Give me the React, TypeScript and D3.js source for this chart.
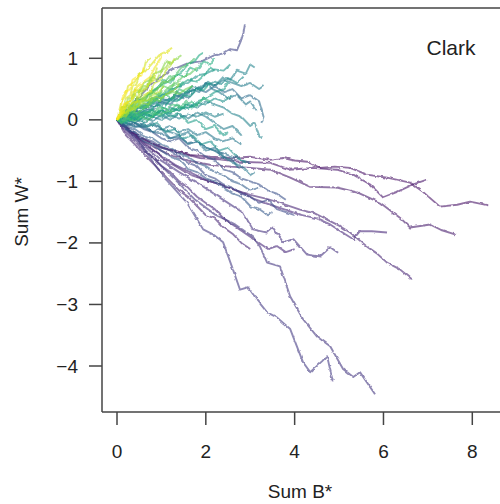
import React from 'react';
import * as d3 from 'd3';

const xTicks = [0, 2, 4, 6, 8];
const yTicks = [1, 0, -1, -2, -3, -4];
const panelLabel = 'Clark';
const xLabel = 'Sum B*';
const yLabel = 'Sum W*';

// each walk: flat list x0,y0,x1,y1,...
const walks: number[][] = [
  // long purple walks
  [0,0, .41,-.24, .7,-.35, .97,-.45, 1.3,-.5, 1.64,-.57, 2.1,-.6, 2.55,-.62, 3.0,-.6, 3.45,-.65, 3.74,-.62, 4.0,-.66, 4.28,-.68, 4.57,-.78, 4.9,-.76, 5.25,-.78, 5.63,-.89, 6.08,-.94, 6.6,-1.02, 6.89,-1.17, 7.27,-1.41, 7.66,-1.38, 7.95,-1.33, 8.36,-1.39],
  [0,0, .52,-.29, .85,-.4, 1.19,-.49, 1.87,-.62, 2.3,-.64, 2.77,-.68, 3.45,-.7, 3.9,-.81, 4.41,-.78, 4.95,-.81, 5.32,-.89, 5.7,-1.05, 5.99,-1.26, 6.31,-1.17, 6.67,-1.05, 6.98,-.97],
  [0,0, .52,-.32, .85,-.45, 1.19,-.57, 1.6,-.66, 2.09,-.73, 2.55,-.76, 3.0,-.78, 3.45,-.81, 3.9,-.94, 4.35,-1.09, 4.95,-1.1, 5.41,-1.18, 5.93,-1.35, 6.37,-1.59, 6.6,-1.75, 7.05,-1.7, 7.3,-1.79, 7.61,-1.86],
  [0,0, .52,-.32, 1.08,-.65, 1.64,-.89, 2.0,-.98, 2.32,-1.05, 2.7,-1.15, 3.0,-1.22, 3.35,-1.28, 3.67,-1.35, 4.12,-1.46, 4.45,-1.52, 4.73,-1.62, 5.0,-1.72, 5.25,-1.83, 5.63,-2.06, 5.85,-2.17, 6.08,-2.32, 6.37,-2.43, 6.64,-2.59],
  [0,0, .63,-.41, 1.31,-.73, 1.98,-.97, 2.4,-1.07, 2.77,-1.17, 3.1,-1.29, 3.45,-1.38, 4.12,-1.54, 4.5,-1.6, 4.8,-1.7, 5.14,-1.86, 5.32,-1.94, 5.47,-1.81, 5.74,-1.81, 6.08,-1.83],
  [0,0, .5,-.35, .97,-.65, 1.4,-.85, 1.87,-1.05, 2.35,-1.28, 2.84,-1.51, 3.06,-1.78, 3.38,-1.83, 3.51,-1.75, 3.74,-1.99, 3.97,-1.94, 4.28,-2.19, 4.57,-2.22, 4.8,-2.07, 4.98,-2.16],
  [0,0, .41,-.32, .86,-.65, 1.31,-.97, 1.76,-1.3, 2.21,-1.54, 2.66,-1.7, 3.06,-1.9, 3.22,-2.06, 3.38,-2.32, 3.67,-2.38, 3.9,-2.87, 4.19,-3.24, 4.5,-3.52, 4.8,-3.68, 5.09,-4.05, 5.32,-4.18, 5.47,-4.1, 5.81,-4.46],
  [0,0, .45,-.32, .75,-.62, 1.04,-.92, 1.58,-1.35, 1.94,-1.78, 2.16,-1.86, 2.39,-1.99, 2.61,-2.43, 2.77,-2.76, 2.95,-2.72, 3.15,-2.92, 3.38,-3.13, 3.6,-3.21, 3.9,-3.4, 4.19,-3.94, 4.35,-4.1, 4.62,-3.92, 4.73,-3.84, 4.86,-4.25],
  [0,0, .2,-.2, .4,-.35, .6,-.5, .8,-.6, 1.0,-.75, 1.2,-.85, 1.4,-1.0, 1.6,-1.1, 1.8,-1.25, 2.0,-1.35, 2.2,-1.45, 2.4,-1.6, 2.6,-1.7, 2.8,-1.8, 3.0,-1.9, 3.2,-2.0, 3.4,-2.1, 3.6,-2.05, 3.8,-2.15, 4.0,-2.1],
  [0,0, .2,-.25, .4,-.4, .6,-.55, .8,-.7, 1.0,-.85, 1.2,-1.0, 1.4,-1.15, 1.6,-1.25, 1.8,-1.4, 2.0,-1.55, 2.2,-1.6, 2.4,-1.75, 2.6,-1.85, 2.8,-2.0, 3.0,-2.1],
  // blue walks
  [0,0, .2,-.1, .4,-.15, .6,-.25, .8,-.3, 1.0,-.4, 1.2,-.45, 1.4,-.55, 1.6,-.6, 1.8,-.7, 2.0,-.75, 2.2,-.85, 2.4,-.9, 2.6,-1.0, 2.8,-1.05, 3.0,-1.15, 3.2,-1.1],
  [0,0, .2,-.15, .4,-.2, .6,-.35, .8,-.4, 1.0,-.5, 1.2,-.6, 1.4,-.65, 1.6,-.8, 1.8,-.85, 2.0,-.95, 2.2,-1.0, 2.4,-1.1, 2.6,-1.2, 2.8,-1.25, 3.0,-1.4, 3.2,-1.45, 3.4,-1.55, 3.5,-1.5],
  [0,0, .2,-.05, .4,-.1, .6,-.12, .8,-.2, 1.0,-.22, 1.2,-.3, 1.4,-.28, 1.6,-.38, 1.8,-.35, 2.0,-.45, 2.2,-.5, 2.4,-.55, 2.6,-.6, 2.8,-.65, 3.0,-.7],
  [0,0, .2,-.1, .4,-.05, .6,-.15, .8,-.2, 1.0,-.3, 1.2,-.35, 1.4,-.3, 1.6,-.45, 1.8,-.5, 2.0,-.6, 2.2,-.65, 2.4,-.8, 2.6,-.85, 2.8,-.95, 3.0,-1.0, 3.2,-1.05, 3.4,-1.15, 3.6,-1.2, 3.8,-1.3],
  [0,0, .2,0, .4,-.05, .6,-.1, .8,-.05, 1.0,-.15, 1.2,-.2, 1.4,-.25, 1.6,-.2, 1.8,-.35, 2.0,-.45, 2.2,-.5, 2.4,-.6, 2.6,-.7, 2.8,-.75, 3.0,-.9, 3.1,-.85],
  [0,0, .2,-.12, .4,-.2, .6,-.3, .8,-.35, 1.0,-.45, 1.2,-.5, 1.4,-.6, 1.6,-.7, 1.8,-.75, 2.0,-.9, 2.2,-.95, 2.4,-1.05, 2.6,-1.1, 2.8,-1.2, 3.0,-1.25, 3.2,-1.35, 3.4,-1.3, 3.6,-1.45, 3.8,-1.5, 4.0,-1.55],
  [0,0, .4,.3, .8,.6, 1.2,.8, 1.6,.92, 1.9,.95, 2.2,1.05, 2.4,1.08, 2.55,1.15, 2.7,1.13, 2.8,1.3, 2.85,1.42, 2.88,1.55],
  // teal walks
  [0,0, .2,.05, .4,0, .6,.1, .8,.05, 1.0,.15, 1.2,.1, 1.4,.2, 1.6,.18, 1.8,.28, 2.0,.25, 2.2,.35, 2.4,.3, 2.6,.4],
  [0,0, .2,.1, .4,.15, .6,.25, .8,.3, 1.0,.4, 1.2,.45, 1.4,.55, 1.6,.6, 1.8,.72, 2.0,.75, 2.2,.82, 2.4,.8, 2.55,.9],
  [0,0, .2,-.05, .4,0, .6,-.05, .8,.05, 1.0,0, 1.2,.08, 1.4,.02, 1.6,.1, 1.8,.05, 2.0,.12, 2.2,.05, 2.4,.1],
  [0,0, .2,.05, .4,.1, .6,.08, .8,.2, 1.0,.25, 1.2,.35, 1.4,.32, 1.6,.45, 1.8,.5, 2.0,.55, 2.2,.62, 2.35,.58, 2.5,.68, 2.7,.6, 2.85,.7],
  [0,0, .2,-.08, .4,-.05, .6,-.12, .8,-.08, 1.0,-.15, 1.2,-.1, 1.4,-.2, 1.6,-.15, 1.8,-.25, 2.0,-.2, 2.2,-.3, 2.4,-.35, 2.6,-.3, 2.8,-.4],
  [0,0, .2,.05, .4,0, .6,.1, .8,.15, 1.0,.1, 1.2,.2, 1.4,.15, 1.6,.25, 1.8,.2, 2.0,.3, 2.2,.25, 2.4,.2, 2.6,.1, 2.8,.05, 3.0,-.1, 3.1,-.05, 3.2,-.25, 3.27,-.3],
  [0,0, .2,.1, .4,.2, .6,.2, .8,.35, 1.0,.4, 1.2,.5, 1.4,.55, 1.6,.65, 1.8,.62, 2.0,.75, 2.1,.85, 2.2,.8],
  [0,0, .15,.05, .3,.12, .45,.1, .6,.2, .75,.25, .9,.35, 1.05,.38, 1.2,.48, 1.35,.55, 1.5,.62],
  [0,0, .2,.05, .4,.15, .6,.12, .8,.25, 1.0,.3, 1.2,.35, 1.4,.4, 1.6,.45, 1.8,.5, 2.0,.6, 2.2,.55, 2.4,.65, 2.6,.6, 2.8,.55, 3.0,.6, 3.2,.5, 3.3,.55],
  [0,0, .2,-.02, .4,.05, .6,0, .8,.1, 1.0,.05, 1.2,.12, 1.4,.2, 1.6,.18, 1.8,.3, 2.0,.35, 2.2,.45, 2.4,.5, 2.5,.62],
  [0,0, .2,.1, .35,.05, .5,.2, .7,.25, .85,.2, 1.0,.35, 1.2,.3, 1.35,.45, 1.5,.4, 1.7,.55, 1.9,.5, 2.05,.62, 2.2,.55, 2.4,.7, 2.55,.65, 2.7,.8, 2.9,.75, 3.0,.9, 3.1,.85],
  [0,0, .2,.05, .4,.15, .55,.1, .7,.25, .9,.3, 1.1,.25, 1.3,.4, 1.5,.35, 1.7,.5, 1.85,.45, 2.0,.6, 2.15,.5, 2.3,.45, 2.5,.35, 2.7,.4, 2.9,.25, 3.0,.3, 3.15,.15],
  [0,0, .15,-.05, .3,.05, .5,0, .7,-.1, .9,-.05, 1.1,-.2, 1.3,-.15, 1.5,-.3, 1.7,-.25, 1.9,-.4, 2.1,-.35, 2.3,-.5, 2.5,-.45, 2.7,-.6, 2.9,-.7],
  [0,0, .2,.08, .4,.02, .6,.12, .8,.05, 1.0,.15, 1.2,.05, 1.4,.1, 1.6,-.05, 1.8,0, 2.0,-.15, 2.2,-.1, 2.4,-.25, 2.5,-.2],
  [0,0, .2,-.05, .4,-.12, .6,-.08, .8,-.2, 1.0,-.15, 1.2,-.3, 1.4,-.25, 1.6,-.4, 1.8,-.35, 2.0,-.5, 2.2,-.45, 2.4,-.6, 2.6,-.65, 2.75,-.8],
  [0,0, .2,.1, .4,.05, .6,.2, .8,.15, 1.0,.3, 1.2,.25, 1.4,.4, 1.6,.35, 1.8,.5, 2.0,.45, 2.2,.55, 2.4,.45, 2.6,.5, 2.8,.35, 3.0,.4, 3.2,.3, 3.3,.05, 3.25,-.05],
  [0,0, .15,.05, .3,.1, .45,.05, .6,.15, .75,.12, .9,.25, 1.05,.2, 1.2,.32, 1.35,.3, 1.5,.4, 1.65,.38, 1.8,.5, 1.95,.48, 2.1,.6],
  [0,0, .2,.02, .4,-.05, .6,.05, .8,-.02, 1.0,.08, 1.2,0, 1.4,.1, 1.6,.02, 1.8,.12, 2.0,.05, 2.2,-.05, 2.4,-.15, 2.6,-.1, 2.8,-.25],
  // green walks
  [0,0, .1,.1, .25,.12, .35,.25, .5,.2, .65,.3, .8,.35, .95,.3, 1.1,.4, 1.25,.45, 1.4,.42, 1.55,.5, 1.7,.55],
  [0,0, .15,.05, .3,.15, .45,.1, .6,.2, .75,.25, .9,.4, 1.05,.45, 1.2,.55, 1.35,.6, 1.5,.72, 1.65,.75, 1.8,.85],
  [0,0, .1,.2, .25,.25, .35,.4, .5,.45, .6,.6, .75,.65, .85,.75, 1.0,.8, 1.1,.95, 1.2,.9, 1.35,1.0, 1.45,1.05],
  [0,0, .15,0, .3,.08, .45,.05, .6,.12, .8,.1, .95,.2, 1.1,.18, 1.25,.25, 1.4,.22, 1.6,.3],
  [0,0, .1,.12, .2,.18, .35,.2, .5,.32, .6,.3, .75,.42, .9,.48, 1.0,.6, 1.15,.62, 1.3,.7],
  [0,0, .2,-.05, .35,.05, .5,0, .65,.08, .8,.05, .95,.15, 1.1,.1, 1.25,.18, 1.4,.15, 1.55,.25, 1.7,.2, 1.85,.28],
  [0,0, .1,.05, .25,.15, .4,.2, .55,.35, .7,.4, .85,.5, 1.0,.55, 1.15,.68, 1.3,.72, 1.45,.85, 1.6,.9, 1.75,1.0],
  [0,0, .15,.1, .3,.2, .4,.15, .55,.28, .7,.25, .85,.38, 1.0,.35, 1.15,.45, 1.3,.48, 1.4,.6],
  [0,0, .1,-.05, .25,.02, .4,-.02, .55,.05, .7,0, .85,.1, 1.0,.08, 1.15,.15, 1.3,.12],
  [0,0, .15,.1, .3,.15, .45,.3, .6,.35, .8,.45, .95,.55, 1.1,.6, 1.3,.7, 1.45,.78, 1.6,.9, 1.75,.95, 1.85,1.05, 1.94,1.09],
  [0,0, .1,.08, .2,.12, .35,.18, .45,.3, .6,.32, .7,.45, .8,.5],
  [0,0, .15,.15, .3,.2, .45,.35, .6,.3, .75,.45, .9,.5, 1.05,.65, 1.2,.6, 1.35,.75, 1.5,.7, 1.65,.85, 1.8,.8, 1.95,.95, 2.1,.9, 2.2,1.0],
  [0,0, .1,.05, .2,.15, .35,.1, .5,.25, .65,.2, .8,.35, .95,.3, 1.1,.4, 1.25,.35, 1.4,.5, 1.55,.45, 1.7,.55],
  [0,0, .15,.05, .3,0, .45,.1, .6,.05, .75,.15, .9,.1, 1.05,.2, 1.2,.15, 1.35,.25, 1.5,.2, 1.65,.3, 1.8,.25, 1.95,.35, 2.1,.3],
  [0,0, .1,.12, .2,.08, .3,.22, .45,.2, .55,.35, .7,.3, .8,.45, .95,.4, 1.05,.55, 1.2,.5, 1.3,.62],
  [0,0, .1,.15, .2,.25, .3,.2, .4,.4, .5,.35, .6,.5, .7,.55, .8,.7, .9,.65, 1.0,.8, 1.1,.85, 1.2,.95],
  // yellow walks
  [0,0, .05,.15, .1,.3, .2,.4, .25,.55, .4,.62, .5,.75, .65,.8, .8,.92, .95,1.05, 1.1,1.1, 1.24,1.17],
  [0,0, .1,.1, .15,.25, .3,.3, .35,.45, .5,.5, .6,.62, .75,.7, .85,.85, .95,.95, 1.0,1.05],
  [0,0, .1,.05, .2,.2, .3,.25, .45,.3, .5,.45, .65,.5, .75,.6, .85,.7, .9,.85],
  [0,0, .08,.15, .12,.35, .2,.45, .3,.5, .35,.65, .45,.7, .55,.72, .6,.85],
  [0,0, .1,.08, .2,.05, .3,.15, .45,.2, .55,.3, .7,.32, .8,.4, .95,.45, 1.05,.55],
  [0,0, .05,.1, .15,.12, .2,.25, .3,.3, .4,.4, .45,.55, .55,.6],
  [0,0, .1,.15, .2,.1, .3,.25, .4,.3, .5,.28, .6,.4, .75,.45, .85,.6, 1.0,.65, 1.1,.8, 1.2,.88, 1.3,1.0],
  [0,0, .05,.05, .1,.2, .2,.2, .25,.35, .35,.35, .4,.5, .5,.45, .6,.55, .7,.55, .75,.7],
  [0,0, .05,.1, .15,.2, .2,.35, .3,.4, .35,.55, .45,.6, .5,.75, .6,.8, .65,.95, .75,1.0],
];

// position on the viridis scale for each walk (0 = purple, 1 = yellow)
const walkShade: number[] = [
  0.05, 0.06, 0.07, 0.1, 0.12, 0.14, 0.16, 0.17, 0.12, 0.1,
  0.3, 0.28, 0.35, 0.25, 0.4, 0.22, 0.2,
  0.5, 0.52, 0.45, 0.48, 0.4, 0.45, 0.58, 0.62, 0.42, 0.55,
  0.45, 0.4, 0.5, 0.55, 0.38, 0.35, 0.57, 0.42,
  0.78, 0.75, 0.82, 0.68, 0.8, 0.6, 0.72, 0.85, 0.7, 0.6, 0.9,
  0.62, 0.68, 0.65, 0.75, 0.85,
  0.95, 0.98, 0.92, 1.0, 0.88, 0.97, 0.9, 0.85, 0.93,
];

export default function App() {
  const W = 500, H = 504;
  const left = 102, top = 8, bottom = 412;
  const x = d3.scaleLinear().domain([0, 8]).range([117, 472.3]);
  const y = d3.scaleLinear().domain([-4, 1]).range([366, 58.3]);
  const line = d3.line<[number, number]>().x(d => x(d[0])).y(d => y(d[1]));

  const order = walks.map((_, i) => i).sort((a, b) => walkShade[a] - walkShade[b]);
  const font = 'Liberation Sans, Arial, Helvetica, sans-serif';

  return (
    <svg width={W} height={H} style={{ position: 'absolute', left: 0, top: 0, background: '#fff' }}>
      <defs>
        <filter id="jag" filterUnits="userSpaceOnUse" x={0} y={0} width={W} height={H}>
          <feTurbulence type="fractalNoise" baseFrequency="0.18" numOctaves={2} seed={5} result="n" />
          <feDisplacementMap in="SourceGraphic" in2="n" scale={3} xChannelSelector="R" yChannelSelector="G" />
        </filter>
      </defs>
      <g filter="url(#jag)">
        {order.map(i => {
          const w = walks[i];
          const pts: [number, number][] = [];
          for (let k = 0; k < w.length; k += 2) pts.push([w[k], w[k + 1]]);
          return (
            <path key={i} d={line(pts) || ''} fill="none"
              stroke={d3.interpolateViridis(walkShade[i])}
              strokeOpacity={0.6} strokeWidth={1.9} strokeLinejoin="round" />
          );
        })}
      </g>
      <g stroke="#444" strokeWidth={1.5} fill="none">
        <line x1={left} x2={left} y1={top} y2={bottom} />
        <line x1={left} x2={W} y1={top} y2={top} />
        <line x1={left} x2={W} y1={bottom} y2={bottom} />
        {xTicks.map(t => (
          <line key={'xt' + t} x1={x(t)} x2={x(t)} y1={bottom} y2={bottom + 13} />
        ))}
        {yTicks.map(t => (
          <line key={'yt' + t} x1={left - 13} x2={left} y1={y(t)} y2={y(t)} />
        ))}
      </g>
      <g fontFamily={font} fontSize={19} fill="#222">
        {xTicks.map(t => (
          <text key={'xl' + t} x={x(t)} y={458} textAnchor="middle">{t}</text>
        ))}
        {yTicks.map(t => (
          <text key={'yl' + t} x={78} y={y(t) + 6.5} textAnchor="end">{t < 0 ? '\u2212' + Math.abs(t) : t}</text>
        ))}
        <text x={300} y={498} textAnchor="middle">{xLabel}</text>
        <text transform={`translate(28,212) rotate(-90)`} textAnchor="middle">{yLabel}</text>
        <text x={451} y={55} textAnchor="middle" fontSize={21}>{panelLabel}</text>
      </g>
    </svg>
  );
}
